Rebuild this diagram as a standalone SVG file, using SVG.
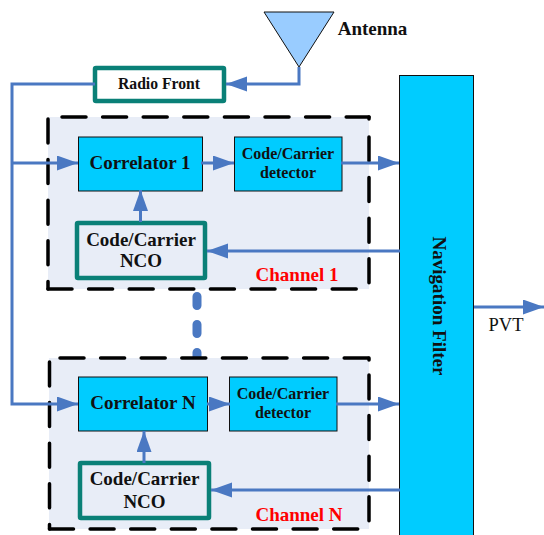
<svg xmlns="http://www.w3.org/2000/svg" width="544" height="535" viewBox="0 0 544 535">
<style>
text{font-family:"Liberation Serif","Times New Roman",serif;font-weight:bold;fill:#111;text-anchor:middle}
.ch{fill:#e8edf7;stroke:none}
.dash{fill:none;stroke:#000;stroke-width:3.500;stroke-dasharray:24 16.600;stroke-linecap:round}
.blue{fill:#00ccff;stroke:#111;stroke-width:1}
.nco{stroke:#0a8077;stroke-width:4.500;stroke-linejoin:round}
.w{stroke:#4a78c2;stroke-width:3;fill:none}
.red{fill:#ff0000}
.f16{font-size:16px}.f19{font-size:19px}
</style>
<defs>
<marker id="a" markerUnits="userSpaceOnUse" markerWidth="22" markerHeight="16" refX="21" refY="7.500" orient="auto"><path d="M0 0L21 7.500L0 15Z" fill="#4a78c2"/></marker>
</defs>
<g id="channel-1"><rect class="ch" x="48" y="117" width="321" height="172"/><path class="dash" d="M62 117H369"/><path class="dash" d="M369 117V119M369 137V289"/><path class="dash" d="M48 119V289"/><path class="dash" d="M48 289H362"/><text class="red f19" x="297" y="281">Channel 1</text></g>
<g id="channel-dots"><path d="M197 296.500V362" fill="none" stroke="#4a78c2" stroke-width="9" stroke-linecap="round" stroke-dasharray="9 19"/></g>
<g id="channel-n"><rect class="ch" x="49" y="358" width="320" height="171"/><path class="dash" d="M60 358H369"/><path class="dash" d="M369 358V360M369 375V529"/><path class="dash" d="M49.500 362V529"/><path class="dash" d="M49.500 529H362"/><text class="red f19" x="299" y="521">Channel N</text></g>
<g id="antenna"><path d="M264 12H334L299 67Z" fill="#99ccff" stroke="#111" stroke-width="1"/><text class="f19" x="372.500" y="35">Antenna</text></g>
<g id="radio-front"><rect x="95" y="68" width="129" height="33" rx="1" fill="#fff" class="nco"/><text x="159" y="89" font-size="15.700">Radio Front</text></g>
<g id="correlator-1"><rect class="blue" x="78.500" y="137" width="124" height="54"/><text x="140" y="169" font-size="19">Correlator 1</text></g>
<g id="detector-1"><rect class="blue" x="234.500" y="137" width="107.500" height="54"/><text class="f16" x="288" y="159">Code/Carrier</text><text class="f16" x="288" y="178">detector</text></g>
<g id="nco-1"><rect x="77" y="223" width="128" height="55" rx="1" fill="#e8edf7" class="nco"/><text class="f19" x="141" y="246">Code/Carrier</text><text class="f19" x="141" y="267">NCO</text></g>
<g id="correlator-n"><rect class="blue" x="78.500" y="377" width="129" height="54"/><text x="143" y="409" font-size="19">Correlator N</text></g>
<g id="detector-n"><rect class="blue" x="229.500" y="377" width="107.500" height="54"/><text class="f16" x="283" y="399">Code/Carrier</text><text class="f16" x="283" y="418">detector</text></g>
<g id="nco-n"><rect x="80" y="463" width="129" height="55" rx="1" fill="#e8edf7" class="nco"/><text class="f19" x="144.500" y="485">Code/Carrier</text><text class="f19" x="144.500" y="508">NCO</text></g>
<g id="navigation-filter"><rect x="399.500" y="75.500" width="74" height="470" fill="#00ccff" stroke="#111" stroke-width="1"/><text class="f19" transform="translate(433 306) rotate(90)">Navigation Filter</text></g>
<g id="connectors">
<path class="w" d="M299 67V84H226" marker-end="url(#a)"/>
<path class="w" d="M95 84H12V404H78" marker-end="url(#a)"/>
<path class="w" d="M12 163H78" marker-end="url(#a)"/>
<path class="w" d="M201 163H234" marker-end="url(#a)"/>
<path class="w" d="M341 163H399" marker-end="url(#a)"/>
<path class="w" d="M140.500 222V190" marker-end="url(#a)"/>
<path class="w" d="M400 251H207" marker-end="url(#a)"/>
<path class="w" d="M207 404H230" marker-end="url(#a)"/>
<path class="w" d="M336 404H399" marker-end="url(#a)"/>
<path class="w" d="M144 463V431" marker-end="url(#a)"/>
<path class="w" d="M400 490H211" marker-end="url(#a)"/>
<path class="w" d="M474 307H544" marker-end="url(#a)"/>
</g>
<text x="506" y="331" font-size="18.500" style="font-weight:normal">PVT</text>
</svg>
